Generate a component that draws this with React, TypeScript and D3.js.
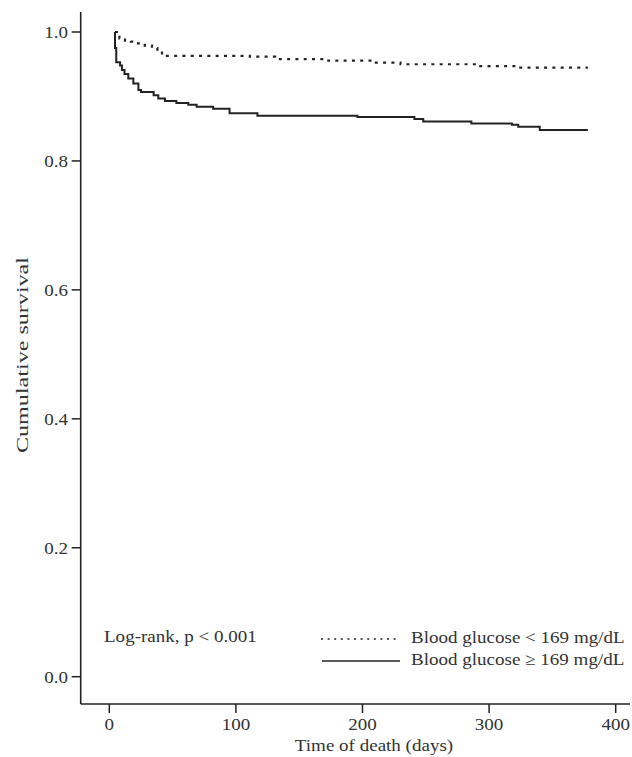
import React from "react";
import * as d3 from "d3";

const xTicks = [0, 100, 200, 300, 400];
const yTicks = [0, 0.2, 0.4, 0.6, 0.8, 1.0];

// Blood glucose < 169 mg/dL (dotted)
const lowDays = [0, 4.5, 8, 12.4, 17, 22.7, 28, 33.7, 38, 41.6, 45.5, 111, 131, 173, 208, 230, 293, 322, 378];
const lowSurv = [1.0, 1.0, 0.99, 0.9866, 0.985, 0.9825, 0.979, 0.975, 0.971, 0.967, 0.963, 0.9617, 0.958, 0.9555, 0.9524, 0.95, 0.947, 0.9446, 0.9446];

// Blood glucose >= 169 mg/dL (solid)
const highDays = [0, 4.5, 5.5, 8.5, 10, 12, 15, 19, 23, 25, 35, 38.7, 44, 53, 62.4, 69, 82, 95, 117, 196, 241, 248, 286, 318, 323, 340, 378];
const highSurv = [1.0, 0.975, 0.953, 0.948, 0.941, 0.935, 0.928, 0.92, 0.91, 0.907, 0.902, 0.897, 0.893, 0.89, 0.887, 0.884, 0.881, 0.874, 0.87, 0.868, 0.865, 0.861, 0.858, 0.856, 0.853, 0.848, 0.848];

const legendLabels = ["Blood glucose < 169 mg/dL", "Blood glucose \u2265 169 mg/dL"];
const statText = "Log-rank, p < 0.001";

const SX = 1.12;

function T(props: { x: number; y: number; anchor?: string; size?: number; children: React.ReactNode; dy?: string }) {
  const { x, y, anchor = "start", size = 17, children, dy } = props;
  return (
    <text
      transform={`translate(${x},${y}) scale(${SX},1)`}
      textAnchor={anchor}
      fontSize={size}
      dy={dy}
      fill="#333"
    >
      {children}
    </text>
  );
}

export default function App() {
  const W = 632;
  const H = 757;
  const x = d3.scaleLinear().domain([0, 400]).range([109.3, 615.7]);
  const y = d3.scaleLinear().domain([0, 1]).range([676.7, 32]);
  const axisX = 80.7;
  const axisY = 704;
  const line = d3
    .line<[number, number]>()
    .x((d) => x(d[0]))
    .y((d) => y(d[1]))
    .curve(d3.curveStepAfter);

  const lowData: [number, number][] = lowDays.slice(1).map((d, i) => [d, lowSurv[i + 1]]);
  const highData: [number, number][] = highDays.slice(1).map((d, i) => [d, highSurv[i + 1]]);
  highData.unshift([4.5, 1.0]);

  const font = "'Liberation Serif', 'Times New Roman', serif";
  const color = "#222";

  return (
    <svg
      width={W}
      height={H}
      style={{ position: "absolute", left: 0, top: 0, background: "#fff" }}
      fontFamily={font}
    >
      {/* axes */}
      <line x1={axisX} x2={axisX} y1={12} y2={axisY} stroke={color} strokeWidth={1.6} />
      <line x1={axisX} x2={630} y1={axisY} y2={axisY} stroke={color} strokeWidth={1.6} />
      {yTicks.map((t) => (
        <g key={"y" + t}>
          <line x1={axisX - 9} x2={axisX} y1={y(t)} y2={y(t)} stroke={color} strokeWidth={1.5} />
          <T x={68} y={y(t)} dy="0.35em" anchor="end">
            {t.toFixed(1)}
          </T>
        </g>
      ))}
      {xTicks.map((t) => (
        <g key={"x" + t}>
          <line x1={x(t)} x2={x(t)} y1={axisY} y2={axisY + 9} stroke={color} strokeWidth={1.5} />
          <T x={x(t)} y={730} anchor="middle">
            {t}
          </T>
        </g>
      ))}
      <T x={374} y={751} anchor="middle">
        Time of death (days)
      </T>
      <text
        transform={`translate(28, 355) rotate(-90)`}
        textAnchor="middle"
        fontSize={16}
        fill="#333"
        textLength={196}
        lengthAdjust="spacingAndGlyphs"
      >
        Cumulative survival
      </text>

      {/* curves */}
      <path d={line(lowData) || ""} fill="none" stroke={color} strokeWidth={2.2} strokeDasharray="3,5.3" />
      <path d={line(highData) || ""} fill="none" stroke={color} strokeWidth={2} />

      {/* annotation and legend */}
      <T x={104} y={642}>
        {statText}
      </T>
      <line x1={321} x2={400} y1={639} y2={639} stroke={color} strokeWidth={1.5} strokeDasharray="2,4.6" />
      <T x={411} y={643}>
        {legendLabels[0]}
      </T>
      <line x1={322} x2={400} y1={661} y2={661} stroke={color} strokeWidth={1.5} />
      <T x={411} y={665}>
        {legendLabels[1]}
      </T>
    </svg>
  );
}
